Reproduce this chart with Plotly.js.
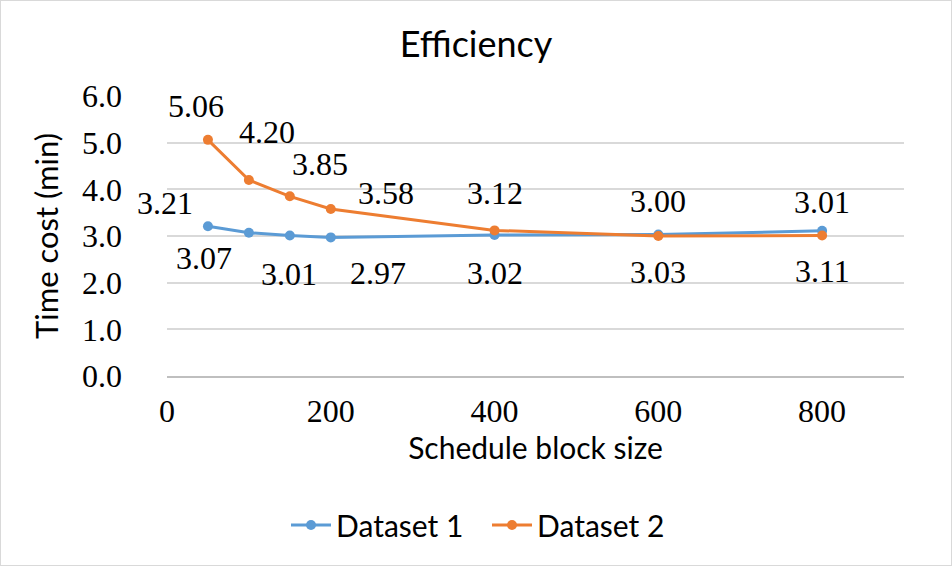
<!DOCTYPE html>
<html>
<head>
<meta charset="utf-8">
<script src="https://cdn.plot.ly/plotly-3.0.1.min.js"></script>
<style>
  html, body { margin: 0; padding: 0; background: #ffffff; }
  #wrap { position: relative; width: 952px; height: 566px; }
  #chart { width: 952px; height: 566px; }
  #frame { position: absolute; left: 0; top: 0; width: 950px; height: 564px;
           border: 1px solid #d9d9d9; pointer-events: none; }
</style>
</head>
<body>
<div id="wrap">
  <div id="chart"></div>
  <div id="frame"></div>
</div>
<script>
// ---- data ----
const blockSizes = [50, 100, 150, 200, 400, 600, 800];
const dataset1 = [3.21, 3.07, 3.01, 2.97, 3.02, 3.03, 3.11];
const dataset2 = [5.06, 4.20, 3.85, 3.58, 3.12, 3.00, 3.01];
const seriesNames = ['Dataset 1', 'Dataset 2'];
const xTickVals = [0, 200, 400, 600, 800];
const yTickVals = [0, 1, 2, 3, 4, 5, 6];

// ---- styling (label offsets in px relative to each point) ----
const labelShift1 = [[-43, 23], [-45, -25], [-1, -38], [47, -36], [0, -38], [0, -37], [0, -40]];
const labelShift2 = [[-12, 34], [18, 48], [30, 32], [55, 16], [0, 37], [0, 35], [0, 34]];
const colors = ['#5B9BD5', '#ED7D31'];
const serif = 'Liberation Serif, Times New Roman, serif';
const sans = 'Lato, Noto Sans, sans-serif';

const traces = [dataset1, dataset2].map((vals, i) => ({
  type: 'scatter',
  mode: 'lines+markers',
  name: seriesNames[i],
  x: blockSizes,
  y: vals,
  line: { color: colors[i], width: 3 },
  marker: { color: colors[i], size: 10 },
  hoverinfo: 'x+y'
}));

const annotations = [];
[[dataset1, labelShift1], [dataset2, labelShift2]].forEach(([vals, shifts]) => {
  vals.forEach((v, j) => {
    annotations.push({
      x: blockSizes[j], y: v, xref: 'x', yref: 'y',
      text: v.toFixed(2), showarrow: false,
      xanchor: 'center', yanchor: 'middle',
      xshift: shifts[j][0], yshift: shifts[j][1],
      font: { family: serif, size: 32, color: '#000000' }
    });
  });
});

const layout = {
  width: 952, height: 566,
  paper_bgcolor: '#ffffff', plot_bgcolor: '#ffffff',
  margin: { l: 167, r: 48, t: 96, b: 190 },
  title: {
    text: 'Efficiency',
    font: { family: sans, size: 36, color: '#000000' },
    x: 0.5, xref: 'container', xanchor: 'center',
    y: 1 - 44 / 566, yref: 'container', yanchor: 'middle'
  },
  xaxis: {
    range: [0, 900],
    tickvals: xTickVals,
    ticktext: xTickVals.map(String),
    ticks: '', showgrid: false, zeroline: false,
    showline: true, linecolor: '#bfbfbf', linewidth: 2,
    tickfont: { family: serif, size: 32, color: '#000000' },
    ticklabelstandoff: 6,
    title: { text: 'Schedule block size', font: { family: sans, size: 30, color: '#000000' }, standoff: 10 },
    fixedrange: true
  },
  yaxis: {
    range: [0, 6],
    tickvals: yTickVals,
    tickformat: '.1f',
    ticks: '', showgrid: true, gridcolor: '#d9d9d9', gridwidth: 2,
    zeroline: false, showline: false,
    tickfont: { family: serif, size: 32, color: '#000000' },
    ticklabelstandoff: 44,
    title: { text: 'Time cost (min)', font: { family: sans, size: 31, color: '#000000' }, standoff: 14 },
    fixedrange: true
  },
  showlegend: true,
  legend: {
    orientation: 'h',
    x: 487 / 952, xref: 'container', xanchor: 'center',
    y: 1 - 525 / 566, yref: 'container', yanchor: 'middle',
    font: { family: sans, size: 30, color: '#000000' },
    itemwidth: 40,
    entrywidth: 146
  },
  annotations: annotations
};

Plotly.newPlot('chart', traces, layout, { displayModeBar: false, staticPlot: true });
</script>
</body>
</html>
